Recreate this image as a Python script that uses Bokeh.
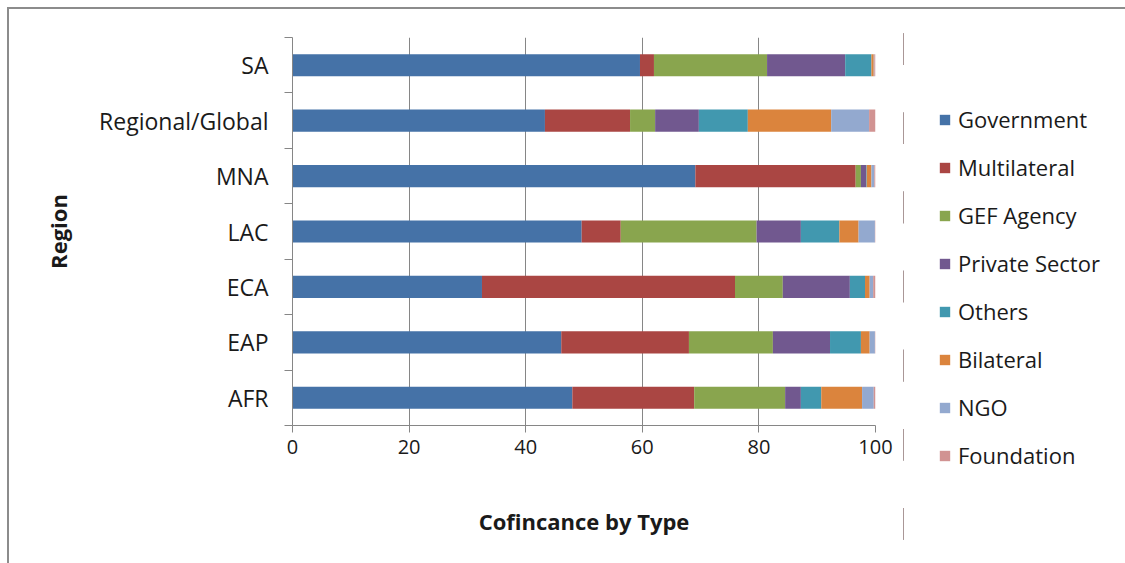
from bokeh.plotting import figure
from bokeh.layouts import row
from bokeh.models import ColumnDataSource, FixedTicker, Legend, Range1d
from bokeh.embed import file_html
from bokeh.resources import INLINE

# Regions, listed bottom to top
regions = ["AFR", "EAP", "ECA", "LAC", "MNA", "Regional/Global", "SA"]

# Share of cofinancing (%) by source type for each region
government    = [48.0, 46.1, 32.5, 49.6, 69.1, 43.3, 59.6]
multilateral  = [20.9, 21.9, 43.4,  6.7, 27.5, 14.6,  2.4]
gef_agency    = [15.6, 14.4,  8.2, 23.3,  0.9,  4.3, 19.4]
private       = [ 2.7,  9.8, 11.5,  7.6,  0.9,  7.5, 13.4]
others        = [ 3.5,  5.3,  2.6,  6.6,  0.1,  8.4,  4.5]
bilateral     = [ 7.0,  1.5,  0.8,  3.3,  0.8, 14.3,  0.4]
ngo           = [ 2.0,  0.9,  0.6,  2.8,  0.5,  6.5,  0.1]
foundation    = [ 0.3,  0.1,  0.4,  0.1,  0.2,  1.1,  0.2]

types = ["Government", "Multilateral", "GEF Agency", "Private Sector",
         "Others", "Bilateral", "NGO", "Foundation"]
colors = ["#4572A7", "#AA4643", "#89A54E", "#71588F",
          "#4198AF", "#DB843D", "#93A9CF", "#D19392"]
x_ticks = [0, 20, 40, 60, 80, 100]

positions = [i + 0.5 for i in range(len(regions))]
source = ColumnDataSource(data={
    "pos": positions,
    "Government": government,
    "Multilateral": multilateral,
    "GEF Agency": gef_agency,
    "Private Sector": private,
    "Others": others,
    "Bilateral": bilateral,
    "NGO": ngo,
    "Foundation": foundation,
})

FONT = "Open Sans"
GRID = "#868686"
TEXT = "#1a1a1a"
H = 554
W_MAIN = 894

# ---- main chart -------------------------------------------------------------
p = figure(width=W_MAIN, height=H, x_range=(0, 100), y_range=(0, len(regions)),
           output_backend="svg", toolbar_location=None,
           min_border_left=283, min_border_top=28,
           min_border_right=28, min_border_bottom=138)
p.outline_line_color = None
p.background_fill_color = "white"
p.border_fill_color = "white"

p.hbar_stack(types, y="pos", height=0.4, color=colors,
             source=source, line_color=None)

# x axis
p.xaxis.ticker = FixedTicker(ticks=x_ticks)
p.xaxis.axis_line_color = GRID
p.xaxis.major_tick_line_color = GRID
p.xaxis.major_tick_out = 7
p.xaxis.major_tick_in = 0
p.xaxis.minor_tick_line_color = None
p.xaxis.major_label_text_font = FONT
p.xaxis.major_label_text_font_size = "20px"
p.xaxis.major_label_text_color = TEXT
p.xaxis.major_label_standoff = 7
p.xaxis.axis_label = "Cofincance by Type"
p.xaxis.axis_label_text_font = FONT
p.xaxis.axis_label_text_font_style = "bold"
p.xaxis.axis_label_text_font_size = "22px"
p.xaxis.axis_label_text_color = TEXT
p.xaxis.axis_label_standoff = 49

# y axis: labels at row centres, tick marks between rows
p.yaxis.ticker = FixedTicker(ticks=positions,
                             minor_ticks=list(range(len(regions) + 1)))
p.yaxis.major_label_overrides = {pos: name for pos, name in zip(positions, regions)}
p.yaxis.axis_line_color = GRID
p.yaxis.major_tick_line_color = None
p.yaxis.major_tick_out = 0
p.yaxis.major_tick_in = 0
p.yaxis.minor_tick_line_color = GRID
p.yaxis.minor_tick_out = 8
p.yaxis.minor_tick_in = 0
p.yaxis.major_label_text_font = FONT
p.yaxis.major_label_text_font_size = "23px"
p.yaxis.major_label_text_color = TEXT
p.yaxis.major_label_standoff = 16
p.yaxis.axis_label = "Region"
p.yaxis.axis_label_text_font = FONT
p.yaxis.axis_label_text_font_style = "bold"
p.yaxis.axis_label_text_font_size = "22px"
p.yaxis.axis_label_text_color = TEXT
p.yaxis.axis_label_standoff = 23

p.xgrid.grid_line_color = GRID
p.xgrid.ticker = FixedTicker(ticks=x_ticks)
p.ygrid.grid_line_color = None

# ---- legend panel -----------------------------------------------------------
# The same stacked bars are added here only to supply legend swatches; the
# panel's x range lies beyond 100 %, so the bars themselves stay out of view.
lg = figure(width=1116 - W_MAIN, height=H, x_range=Range1d(200, 300),
            y_range=Range1d(0, len(regions)),
            x_axis_location=None, y_axis_location=None,
            output_backend="svg", toolbar_location=None,
            min_border=0, min_border_left=0, min_border_right=0,
            min_border_top=0, min_border_bottom=0)
lg.frame_align = False
lg.xgrid.grid_line_color = None
lg.ygrid.grid_line_color = None
lg.outline_line_color = None
lg.border_fill_color = "white"
lg.background_fill_color = "white"

swatches = lg.hbar_stack(types, y="pos", height=0.4, color=colors,
                         source=source, line_color=None)
legend = Legend(items=[(t, [r]) for t, r in zip(types, swatches)],
                location=(35, 93), orientation="vertical",
                glyph_width=13, glyph_height=13, label_height=30,
                spacing=18, label_standoff=7, margin=0, padding=0,
                border_line_color=None, background_fill_alpha=0,
                label_text_font=FONT, label_text_font_size="22px",
                label_text_color=TEXT)
lg.add_layout(legend, "center")

layout = row(p, lg, spacing=0)
layout.styles = {"margin-left": "7px", "margin-top": "7px",
                 "border-left": "2px solid #8c8c8c", "border-top": "2px solid #8c8c8c"}

open("out.html", "w").write(file_html(layout, INLINE))
